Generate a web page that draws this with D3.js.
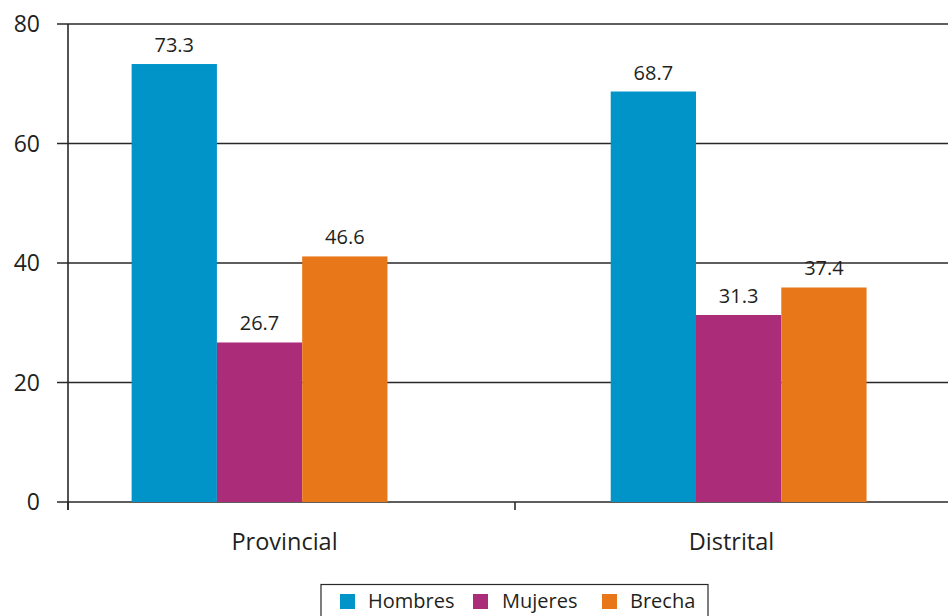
<!DOCTYPE html>
<html>
<head>
<meta charset="utf-8">
<script src="https://cdn.jsdelivr.net/npm/d3@7"></script>
<style>
  body { margin: 0; background: #fff; }
  text { font-family: 'Open Sans', 'Noto Sans', sans-serif; fill: #231f20; }
</style>
</head>
<body>
<div id="chart"></div>
<script>
const categories = ['Provincial', 'Distrital']
const series = ['Hombres', 'Mujeres', 'Brecha']

// bar heights as drawn
const hombres = [73.3, 68.7]
const mujeres = [26.7, 31.3]
const brecha = [41.1, 35.9]

// printed labels (Brecha labels differ from the drawn bars in the source)
const hombresLabels = ['73.3', '68.7']
const mujeresLabels = ['26.7', '31.3']
const brechaLabels = ['46.6', '37.4']

const yTicks = [0, 20, 40, 60, 80]

const colors = ['#0094c8', '#ab2d79', '#e8771a']

const width = 948
const height = 616

const svg = d3.select('#chart')
  .append('svg')
  .attr('width', width)
  .attr('height', height)

const plotLeft = 68
const plotRight = 962
const plotTop = 24
const plotBottom = 502

const yScale = d3.scaleLinear().domain([0, 80]).range([plotBottom, plotTop])

// axis bands
const xAxisScale = d3.scaleBand().domain(categories).range([plotLeft, plotRight])

// groups of bars
const xGroup = d3.scaleBand()
  .domain(categories)
  .range([plotLeft, plotRight])
  .paddingInner(0.466)
  .paddingOuter(0.166)
  .align(0.4)

const xInner = d3.scaleBand()
  .domain(series)
  .range([0, xGroup.bandwidth()])

const colorScale = d3.scaleOrdinal().domain(series).range(colors)

// gridlines
svg.append('g')
  .selectAll('line')
  .data(yTicks)
  .enter()
  .append('line')
  .attr('x1', plotLeft - 11)
  .attr('x2', width)
  .attr('y1', d => yScale(d))
  .attr('y2', d => yScale(d))
  .attr('stroke', '#2b2728')
  .attr('stroke-width', 1.6)

// y axis line + labels
svg.append('line')
  .attr('x1', plotLeft).attr('x2', plotLeft)
  .attr('y1', yScale(80)).attr('y2', plotBottom + 8)
  .attr('stroke', '#2b2728')
  .attr('stroke-width', 1.6)

svg.append('g')
  .selectAll('text')
  .data(yTicks)
  .enter()
  .append('text')
  .attr('x', 40)
  .attr('y', d => yScale(d))
  .attr('dy', '0.36em')
  .attr('text-anchor', 'end')
  .style('font-size', '23px')
  .text(d => d)

// x axis ticks at band edges
svg.append('g')
  .selectAll('line')
  .data(categories)
  .enter()
  .append('line')
  .attr('x1', d => xAxisScale(d))
  .attr('x2', d => xAxisScale(d))
  .attr('y1', plotBottom)
  .attr('y2', plotBottom + 8)
  .attr('stroke', '#2b2728')
  .attr('stroke-width', 1.6)

svg.append('g')
  .selectAll('text')
  .data(categories)
  .enter()
  .append('text')
  .attr('x', d => xAxisScale(d) + xAxisScale.bandwidth() / 2 - 7)
  .attr('y', 550)
  .attr('text-anchor', 'middle')
  .style('font-size', '23.5px')
  .text(d => d)

// bars
const rows = categories.map((c, i) => ({
  category: c,
  values: [
    { key: 'Hombres', value: hombres[i], label: hombresLabels[i] },
    { key: 'Mujeres', value: mujeres[i], label: mujeresLabels[i] },
    { key: 'Brecha', value: brecha[i], label: brechaLabels[i] }
  ]
}))

const groups = svg.selectAll('.group')
  .data(rows)
  .enter()
  .append('g')
  .attr('class', 'group')
  .attr('transform', d => 'translate(' + xGroup(d.category) + ',0)')

groups.selectAll('rect')
  .data(d => d.values)
  .enter()
  .append('rect')
  .attr('x', d => xInner(d.key))
  .attr('width', xInner.bandwidth())
  .attr('y', d => yScale(d.value))
  .attr('height', d => plotBottom - yScale(d.value))
  .attr('fill', d => colorScale(d.key))

groups.selectAll('.val')
  .data(d => d.values)
  .enter()
  .append('text')
  .attr('class', 'val')
  .attr('x', d => xInner(d.key) + xInner.bandwidth() / 2)
  .attr('y', d => yScale(d.value) - 12)
  .attr('text-anchor', 'middle')
  .style('font-size', '20px')
  .text(d => d.label)

// legend
const legend = svg.append('g')

legend.append('rect')
  .attr('x', 321)
  .attr('y', 584.5)
  .attr('width', 387)
  .attr('height', 40)
  .attr('fill', 'none')
  .attr('stroke', '#2b2728')
  .attr('stroke-width', 1.2)

const legendX = d3.scaleOrdinal().domain(series).range([340, 473, 602])

const items = legend.selectAll('.item')
  .data(series)
  .enter()
  .append('g')
  .attr('class', 'item')
  .attr('transform', d => 'translate(' + legendX(d) + ',594)')

items.append('rect')
  .attr('width', 15)
  .attr('height', 15)
  .attr('fill', d => colorScale(d))

items.append('text')
  .attr('x', (d, i) => i === 1 ? 29 : 28)
  .attr('y', 14)
  .style('font-size', '20px')
  .text(d => d)
</script>
</body>
</html>
